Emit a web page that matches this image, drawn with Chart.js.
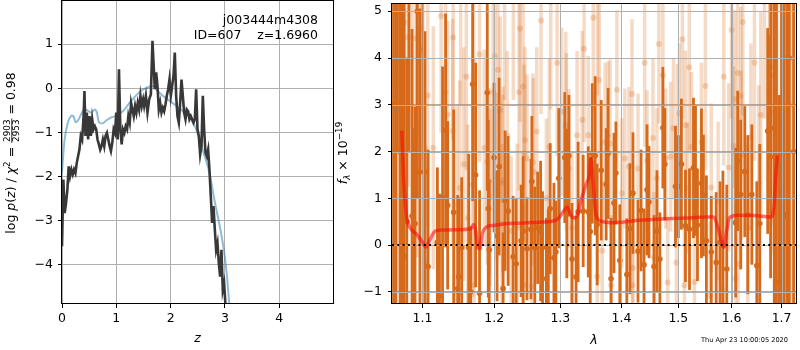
<!DOCTYPE html>
<html>
<head>
<meta charset="utf-8">
<script src="https://cdn.jsdelivr.net/npm/chart.js@4.4.1/dist/chart.umd.min.js"></script>
<style>
  html, body { margin: 0; padding: 0; background: #fff; }
  #wrap { position: relative; width: 800px; height: 350px; }
  #pz { position: absolute; left: 0; top: 0; }
  #spec { position: absolute; left: 335px; top: 0; }
</style>
</head>
<body>
<div id="wrap">
  <canvas id="pz" width="335" height="350"></canvas>
  <canvas id="spec" width="465" height="350"></canvas>
</div>
<script>
// ---- left panel: log p(z) ----
const zTicks = [0, 1, 2, 3, 4];
const pzTicks = [-4, -3, -2, -1, 0, 1];

const zGrid = [0,0.025,0.049,0.074,0.099,0.123,0.148,0.173,0.198,0.222,0.247,0.272,0.296,0.321,0.346,0.37,0.395,0.414,0.432,0.457,0.481,0.506,0.531,0.556,0.58,0.605,0.63,0.654,0.679,0.704,0.728,0.753,0.778,0.802,0.827,0.852,0.877,0.901,0.926,0.951,0.975,1.0,1.025,1.049,1.074,1.099,1.123,1.148,1.173,1.198,1.222,1.247,1.272,1.296,1.321,1.346,1.37,1.395,1.42,1.444,1.469,1.494,
  1.513,1.544,1.574,1.605,1.636,1.666,1.685,1.709,1.734,1.758,1.783,1.807,1.832,1.857,1.881,1.906,1.93,1.955,1.979,2.004,2.028,2.053,2.077,2.102,2.126,2.151,2.176,2.2,2.225,2.249,2.274,2.298,2.323,2.347,2.372,2.396,2.421,2.446,2.47,2.495,2.519,2.544,2.568,2.593,2.617,2.642,2.666,2.691,2.715,2.74,2.764,2.789,2.814,2.838,2.863,2.887,2.912,2.936,2.961,2.985,3.01,3.035];
const pzVals = [-3.58,-2.07,-2.83,-2.6,-2.3,-1.77,-1.99,-1.84,-1.95,-1.84,-1.92,-1.69,-1.54,-1.39,-1.08,-1.16,-0.7,-0.06,-1.08,-0.55,-1.16,-0.63,-1.08,-0.7,-0.93,-0.86,-0.93,-1.16,-1.27,-1.39,-1.31,-1.16,-1.31,-1.08,-1.01,-1.16,-1.31,-1.42,-1.23,-0.93,-1.01,-0.55,-1.16,0.43,-0.93,-1.27,-0.93,-1.01,-0.86,-0.93,-0.63,-0.78,-0.33,-0.48,-0.63,-0.4,-0.55,-0.33,-0.48,-0.17,-0.4,-0.25,
  -0.40,-0.17,-0.55,-0.25,-0.14,1.08,0.58,-0.02,0.36,0.05,-0.48,-0.33,-0.55,-0.44,-0.52,-0.36,-0.17,-0.02,0.2,-0.17,0.05,0.28,0.81,-0.17,-0.63,-0.78,-0.33,0.2,-0.17,-0.55,-0.7,-0.48,-0.52,-0.7,-0.63,-0.7,-0.78,-0.7,-0.02,-0.93,-1.08,-1.5,-1.31,-0.17,-0.93,-1.46,-1.54,-1.39,-1.84,-2.45,-3.05,-2.67,-3.2,-3.66,-3.51,-3.96,-4.27,-3.66,-4.57,-4.42,-4.91,-5.5];

const zFit = [0,0.049,0.11,0.171,0.214,0.251,0.294,0.355,0.416,0.478,0.539,0.6,0.643,0.68,0.753,0.814,0.906,0.998,1.121,1.243,1.335,1.396,1.488,1.58,1.672,1.733,1.855,1.978,2.1,2.253,2.376,2.468,2.529,2.603,2.682,2.743,2.805,2.866,2.927,2.988,3.031,3.08];
const pzFit = [-1.91,-1.15,-0.77,-0.62,-0.64,-0.77,-0.73,-0.58,-0.47,-0.51,-0.55,-0.48,-0.55,-0.77,-0.79,-0.73,-0.66,-0.62,-0.52,-0.33,-0.2,-0.12,-0.03,0.02,0.05,-0.02,-0.17,-0.28,-0.39,-0.55,-0.7,-0.92,-1.15,-1.45,-1.76,-2.1,-2.52,-2.89,-3.27,-3.73,-4.18,-4.88];

// ---- right panel: spectrum ----
const lamTicks = [1.1, 1.2, 1.3, 1.4, 1.5, 1.6, 1.7];
const fluxTicks = [-1, 0, 1, 2, 3, 4, 5];

const lightLam  = [1.063,1.068,1.0757,1.0809,1.086,1.0913,1.0926,1.0978,1.0991,1.1004,1.1046,1.107,1.1144,1.125,1.1312,1.134,1.1409,1.1416,1.1465,1.1507,1.152,1.1563,1.16,1.1619,1.1689,1.1703,1.171,1.1787,1.1856,1.1898,1.1926,1.194,1.1982,1.201,1.204,1.2055,1.2085,1.2114,1.2122,1.2129,1.215,1.2189,1.2248,1.228,1.2337,1.2366,1.2381,1.2426,1.2433,1.2441,1.2455,1.2485,1.2559,1.2574,1.2582,1.2634,1.27,1.2782,1.2827,1.285,1.295,1.3021,1.3087,1.3095,1.3136,1.3185,1.3267,1.3349,1.338,1.3448,1.353,1.3595,1.36,1.3628,1.3677,1.3726,1.3775,1.3808,1.3825,1.3923,1.4005,1.4058,1.4127,1.418,1.4188,1.4197,1.4284,1.44,1.4441,1.4546,1.4564,1.4616,1.465,1.4721,1.4773,1.4808,1.486,1.4913,1.4965,1.4983,1.5019,1.5074,1.5111,1.513,1.5167,1.52,1.5241,1.5296,1.5426,1.55,1.5593,1.5611,1.5741,1.5833,1.585,1.5944,1.60,1.604,1.606,1.608,1.6119,1.6129,1.6179,1.6189,1.6219,1.6318,1.6378,1.645,1.6537,1.6577,1.665,1.6756,1.6766,1.6795,1.6835,1.69,1.70,1.71,1.72];
const lightFlux = [5.8,3.5,4.76,4.44,6.5,4.42,2.54,4.63,4.14,4.21,-0.37,3.2,2.08,4.9,3.26,2.79,2.44,4.44,0.87,1.22,5.5,1.73,3.6,0.58,1.29,3.95,-0.86,4.08,2.08,1.78,1.36,1.02,3.27,4.04,1.46,3.75,2.89,0.46,1.32,1.39,5.6,2.35,0.3,5.3,0.37,3.27,4.63,3.39,-0.86,1.96,2.24,1.85,-0.88,1.77,1.57,2.43,4.8,1.0,2.1,5.2,3.9,2.85,2.56,2.2,1.64,0.37,2.35,2.68,4.2,2.35,4.86,-0.67,5.4,3.53,-0.12,2.2,2.33,2.17,-0.86,3.32,1.11,1.85,1.68,3.23,-0.86,-0.49,1.64,3.9,1.81,2.29,-0.26,1.43,4.3,3.63,1.85,-0.8,1.89,2.5,-0.37,2.27,2.82,4.4,-0.86,2.56,1.22,3.8,2.1,-0.79,2.2,3.4,-1.09,1.23,0.94,-0.96,3.6,1.66,4.6,2.12,3.12,-0.72,3.68,-0.4,3.19,1.92,4.77,0.37,2.31,3.9,1.32,2.78,5.2,3.25,3.81,2.84,3.63,5.5,2.6,4.0,3.0];
const lightErr  = [4.0,4.5,3.5,3.2,4.0,3.0,2.8,3.0,2.6,2.4,2.5,2.8,2.6,2.5,2.3,2.0,2.4,2.2,2.1,2.3,2.5,2.5,2.0,2.0,2.4,2.2,1.9,2.3,2.1,2.2,2.0,1.9,2.2,2.0,1.8,2.1,2.0,1.7,1.9,2.0,2.5,1.8,1.6,2.2,1.8,2.1,2.0,2.2,1.7,1.9,2.0,1.8,1.6,1.9,2.0,1.8,2.0,1.7,1.9,2.3,2.0,1.8,2.0,1.9,1.7,1.6,1.8,1.9,2.0,1.7,2.0,1.6,2.2,1.8,1.5,1.7,1.6,1.8,1.5,1.7,1.6,1.5,1.7,1.6,1.4,1.5,1.6,1.8,1.5,1.7,1.4,1.5,1.7,1.6,1.5,1.4,1.6,1.5,1.4,1.6,1.5,1.7,1.5,1.6,1.4,1.8,1.6,1.5,1.7,1.8,1.6,1.8,1.7,1.6,1.9,1.8,1.9,1.7,1.9,1.6,1.8,1.7,1.9,1.8,2.0,1.8,2.0,2.1,2.1,2.2,2.5,2.6,2.8,3.0,3.2,4.0,4.0,5.0,5.0];

const darkLam  = [1.062,1.065,1.067,1.0705,1.073,1.0757,1.0792,1.082,1.0861,1.088,1.09,1.093,1.0965,1.1032,1.1074,1.120,1.1228,1.127,1.1312,1.134,1.1423,1.1479,1.1493,1.1535,1.1633,1.1661,1.1689,1.1731,1.1787,1.1898,1.1912,1.1926,1.1996,1.204,1.207,1.2129,1.2158,1.2203,1.2277,1.2322,1.2396,1.2426,1.2485,1.2545,1.2559,1.2604,1.2648,1.2693,1.2723,1.2782,1.2812,1.2841,1.29,1.293,1.2975,1.307,1.3103,1.3136,1.3185,1.3251,1.3284,1.3365,1.3448,1.348,1.3513,1.3562,1.3595,1.3661,1.3743,1.3775,1.3825,1.3874,1.3906,1.3972,1.4092,1.4145,1.4197,1.4284,1.4337,1.4389,1.4441,1.4476,1.4564,1.4616,1.4668,1.4721,1.4756,1.4948,1.5,1.5056,1.513,1.5204,1.5278,1.5315,1.5352,1.5426,1.5463,1.5519,1.5611,1.5704,1.5778,1.5833,1.5907,1.608,1.6119,1.6179,1.6258,1.6318,1.6398,1.6497,1.6557,1.6716,1.6775,1.678,1.685,1.6895,1.6954,1.700,1.7055,1.7117,1.716,1.725];
const darkFlux = [3.0,-1.5,6.0,2.0,4.0,-0.25,0.51,7.0,0.62,-2.5,0.46,5.0,1.56,1.57,-0.46,0.06,-1.1,1.02,2.45,0.85,0.70,-0.93,-0.68,-0.05,-0.05,-1.0,3.44,1.5,-1.03,3.26,0.78,-0.1,1.87,0.2,1.68,-0.93,0.95,0.73,-0.25,-0.4,0.09,0.3,-0.08,0.34,1.36,-0.05,0.37,0.3,-0.05,-0.72,-0.44,0.78,-0.27,-0.15,1.43,1.87,0.89,1.91,-0.3,-0.68,0.71,0.73,0.71,0.29,1.96,1.91,0.44,1.6,1.3,1.96,-0.72,0.9,1.54,-0.33,-0.63,0.35,1.11,-0.13,0.74,-0.42,1.18,0.92,-0.46,0.3,-0.3,2.51,1.73,1.25,1.25,1.73,0.41,0.34,1.65,1.6,0.43,1.32,1.06,0.09,-0.15,-0.37,0.06,-0.01,-0.51,0.48,1.8,1.08,1.57,0.65,1.08,-0.44,0.46,2.44,1.89,6.0,2.5,1.8,-0.79,3.0,0.65,0.6,4.0,2.0];
const darkErr  = [6.0,7.0,4.0,5.5,6.0,6.0,3.5,5.0,4.0,5.0,2.5,4.0,3.5,3.0,2.5,1.6,2.2,2.8,2.5,1.8,2.2,2.0,1.7,1.5,2.0,1.4,2.5,2.4,2.2,2.1,1.9,1.5,1.6,1.4,1.9,1.2,1.5,1.6,1.3,1.4,1.2,1.6,1.1,1.5,1.4,1.3,1.2,1.5,1.2,1.3,1.2,1.4,1.6,1.1,1.5,1.4,1.6,1.3,1.2,1.3,1.5,1.2,1.4,1.6,1.5,1.7,1.3,1.5,1.2,1.4,1.3,1.5,1.1,1.2,1.2,1.4,1.3,1.1,1.3,1.2,1.4,1.2,1.1,1.3,1.0,1.3,1.2,1.3,1.1,1.4,1.2,1.3,1.5,1.4,1.2,1.6,1.3,1.4,1.2,1.5,1.3,1.6,1.8,1.6,1.5,1.6,1.4,1.7,1.5,1.8,1.7,2.2,2.6,4.0,4.0,3.5,4.0,5.0,6.0,7.0,6.0,6.0];

const modelLam  = [1.0727,1.0748,1.077,1.0792,1.0835,1.0922,1.0987,1.1046,1.1102,1.1172,1.1242,1.1475,1.1661,1.1703,1.1731,1.1763,1.1791,1.1824,1.1894,1.1986,1.2184,1.243,1.2678,1.2875,1.2975,1.3054,1.3108,1.3164,1.3218,1.3272,1.3328,1.341,1.3464,1.3492,1.353,1.3574,1.3656,1.3846,1.401,1.4302,1.4593,1.4883,1.5185,1.5494,1.5648,1.574,1.5802,1.5852,1.5894,1.5957,1.6119,1.6451,1.6781,1.6849,1.6881,1.6915];
const modelFlux = [2.45,1.5,0.94,0.58,0.37,0.23,0.09,-0.04,0.13,0.3,0.32,0.33,0.35,0.44,0.3,-0.05,-0.08,0.23,0.39,0.42,0.46,0.47,0.49,0.51,0.58,0.73,0.81,0.65,0.58,0.65,0.94,1.29,1.5,1.85,1.29,0.65,0.51,0.48,0.49,0.53,0.55,0.57,0.58,0.6,0.6,0.37,0.09,-0.05,0.23,0.58,0.64,0.63,0.6,0.87,1.5,1.92];

const FONT = '"DejaVu Sans", sans-serif';
const ORANGE = 'rgb(214,106,26)';
const ORANGE_LIGHT = 'rgba(214,106,26,0.25)';
const GRID = '#b0b0b0';

const minus = v => (v < 0 ? '\u2212' : '') + Math.abs(v);
const xy = (xs, ys) => xs.map((x, i) => ({ x: x, y: ys[i] }));

function axisOpts(extra) {
  return Object.assign({
    grid: { color: GRID, lineWidth: 1, tickColor: '#000', tickLength: 4 },
    border: { display: false },
  }, extra);
}

// frame around the plot area
const framePlugin = {
  id: 'frame',
  afterDraw(chart) {
    const a = chart.chartArea, ctx = chart.ctx;
    ctx.save();
    ctx.strokeStyle = '#000';
    ctx.lineWidth = 1;
    ctx.strokeRect(Math.round(a.left) - 0.5, Math.round(a.top) - 0.5,
      Math.round(a.right - a.left) + 1, Math.round(a.bottom - a.top));
    ctx.restore();
  }
};

// text drawn as a run of pieces (for the math-ish axis labels)
function drawRuns(ctx, runs, cx, cy, rot) {
  let w = 0;
  runs.forEach(r => {
    ctx.font = r.font;
    r.w = r.frac ? Math.max(ctx.measureText(r.num).width, ctx.measureText(r.den).width) + 2
                 : ctx.measureText(r.t).width;
    w += r.w;
  });
  ctx.save();
  ctx.translate(cx, cy);
  ctx.rotate(rot);
  ctx.fillStyle = '#000';
  ctx.textBaseline = 'alphabetic';
  let x = -w / 2;
  runs.forEach(r => {
    ctx.font = r.font;
    if (r.frac) {
      ctx.textAlign = 'center';
      ctx.fillText(r.num, x + r.w / 2, -4.6);
      ctx.fillText(r.den, x + r.w / 2, 4.4);
      ctx.fillRect(x, -3.6, r.w, 0.8);
    } else {
      ctx.textAlign = 'left';
      ctx.fillText(r.t, x, r.dy || 0);
    }
    x += r.w;
  });
  ctx.restore();
}

const N = '12.5px ' + FONT, I = 'italic 12.5px ' + FONT, S = '8.8px ' + FONT, SI = 'italic 8.8px ' + FONT;

const pzLabels = {
  id: 'pzLabels',
  afterDraw(chart) {
    const ctx = chart.ctx, a = chart.chartArea;
    drawRuns(ctx, [
      { t: 'log ', font: N }, { t: 'p', font: I }, { t: '(', font: N }, { t: 'z', font: I },
      { t: ') / ', font: N }, { t: '\u03c7', font: I }, { t: '2', font: S, dy: -5 },
      { t: ' = ', font: N }, { frac: true, num: '2903', den: '2953', font: S },
      { t: ' = 0.98', font: N }
    ], 15, 153, -Math.PI / 2);
    ctx.save();
    ctx.fillStyle = '#000';
    ctx.font = I;
    ctx.textAlign = 'center';
    ctx.fillText('z', (a.left + a.right) / 2, 342);
    ctx.font = N;
    ctx.textAlign = 'right';
    ctx.fillText('j003444m4308', 318, 24);
    ctx.fillText('ID=607    z=1.6960', 318, 39);
    ctx.restore();
  }
};

new Chart(document.getElementById('pz'), {
  type: 'scatter',
  data: {
    datasets: [
      { data: xy(zGrid, pzVals), showLine: true, borderColor: '#383838', borderWidth: 2.6,
        pointRadius: 0, tension: 0, order: 0 },
      { data: xy(zFit, pzFit), showLine: true, borderColor: 'rgba(31,119,180,0.5)', borderWidth: 2,
        pointRadius: 0, tension: 0.3, order: 1 }
    ]
  },
  options: {
    responsive: false, animation: false, events: [],
    layout: { padding: { left: 0, top: 1, right: 2, bottom: 0 } },
    plugins: { legend: { display: false }, tooltip: { enabled: false } },
    scales: {
      x: axisOpts({
        type: 'linear', min: 0, max: 4.99,
        afterBuildTicks: s => { s.ticks = zTicks.map(v => ({ value: v })); },
        afterFit: s => { s.height = 46; s.paddingLeft = 0; s.paddingRight = 0; },
        ticks: { font: { family: FONT, size: 12.5 }, color: '#000', padding: 3, maxRotation: 0, autoSkip: false, callback: minus }
      }),
      y: axisOpts({
        type: 'linear', min: -4.89, max: 1.98,
        afterBuildTicks: s => { s.ticks = pzTicks.map(v => ({ value: v })); },
        afterFit: s => { s.width = 62; s.paddingTop = 0; s.paddingBottom = 0; },
        ticks: { font: { family: FONT, size: 12.5 }, color: '#000', padding: 5, autoSkip: false, callback: minus }
      })
    }
  },
  plugins: [framePlugin, pzLabels]
});

// error bars, drawn just before their scatter dataset; grid redrawn on top of the bars
const errPlugin = {
  id: 'errbars',
  beforeDatasetDraw(chart, args) {
    const ds = chart.data.datasets[args.index];
    const ctx = chart.ctx, a = chart.chartArea;
    const xs = chart.scales.x, ys = chart.scales.y;
    ctx.save();
    ctx.beginPath();
    ctx.rect(a.left, a.top, a.right - a.left, a.bottom - a.top);
    ctx.clip();
    if (ds.errLam) {
      ctx.strokeStyle = ds.errColor;
      ctx.lineWidth = ds.errWidth;
      ds.errLam.forEach((l, i) => {
        const px = xs.getPixelForValue(l);
        ctx.beginPath();
        ctx.moveTo(px, ys.getPixelForValue(ds.errFlux[i] - ds.errSize[i]));
        ctx.lineTo(px, ys.getPixelForValue(ds.errFlux[i] + ds.errSize[i]));
        ctx.stroke();
      });
    }
    if (ds.gridFirst) {
      ctx.strokeStyle = GRID;
      ctx.lineWidth = 1;
      lamTicks.forEach(v => {
        const px = Math.round(xs.getPixelForValue(v)) + 0.5;
        ctx.beginPath(); ctx.moveTo(px, a.top); ctx.lineTo(px, a.bottom); ctx.stroke();
      });
      fluxTicks.forEach(v => {
        const py = Math.round(ys.getPixelForValue(v)) + 0.5;
        ctx.beginPath(); ctx.moveTo(a.left, py); ctx.lineTo(a.right, py); ctx.stroke();
      });
    }
    ctx.restore();
  }
};

const specLabels = {
  id: 'specLabels',
  afterDraw(chart) {
    const ctx = chart.ctx, a = chart.chartArea;
    drawRuns(ctx, [
      { t: 'f', font: I }, { t: '\u03bb', font: SI, dy: 3 }, { t: ' \u00d7 10', font: N },
      { t: '\u221219', font: S, dy: -5.5 }
    ], 12, 153, -Math.PI / 2);
    ctx.save();
    ctx.fillStyle = '#000';
    ctx.font = I;
    ctx.textAlign = 'center';
    ctx.fillText('\u03bb', (a.left + a.right) / 2, 344);
    ctx.font = '6.6px ' + FONT;
    ctx.textAlign = 'right';
    ctx.fillText('Thu Apr 23 10:00:05 2020', 788 - 335, 341.5);
    ctx.restore();
  }
};

new Chart(document.getElementById('spec'), {
  type: 'scatter',
  data: {
    datasets: [
      { data: [{ x: 1.06, y: 0 }, { x: 1.73, y: 0 }], showLine: true, borderColor: '#000', borderWidth: 2,
        borderDash: [2, 3.3], pointRadius: 0, order: 0 },
      { data: xy(modelLam, modelFlux), showLine: true, borderColor: 'rgba(255,0,0,0.55)', borderWidth: 3.5,
        pointRadius: 0, cubicInterpolationMode: 'monotone', order: 1, gridFirst: true },
      { data: xy(darkLam, darkFlux), backgroundColor: ORANGE, borderWidth: 0, pointRadius: 2.8, order: 2,
        errLam: darkLam, errFlux: darkFlux, errSize: darkErr, errColor: ORANGE, errWidth: 2.8 },
      { data: xy(lightLam, lightFlux), backgroundColor: ORANGE_LIGHT, borderWidth: 0, pointRadius: 3, order: 3,
        errLam: lightLam, errFlux: lightFlux, errSize: lightErr, errColor: ORANGE_LIGHT, errWidth: 3.5 }
    ]
  },
  options: {
    responsive: false, animation: false, events: [],
    layout: { padding: { left: 0, top: 1, right: 1, bottom: 0 } },
    plugins: { legend: { display: false }, tooltip: { enabled: false } },
    scales: {
      x: axisOpts({
        type: 'logarithmic', min: 1.06, max: 1.73,
        afterBuildTicks: s => { s.ticks = lamTicks.map(v => ({ value: v })); },
        afterFit: s => { s.height = 46; s.paddingLeft = 0; s.paddingRight = 0; },
        ticks: { font: { family: FONT, size: 12.5 }, color: '#000', padding: 3, maxRotation: 0, autoSkip: false,
          callback: v => Number(v).toFixed(1) }
      }),
      y: axisOpts({
        type: 'linear', min: -1.26, max: 5.155,
        afterBuildTicks: s => { s.ticks = fluxTicks.map(v => ({ value: v })); },
        afterFit: s => { s.width = 57; s.paddingTop = 0; s.paddingBottom = 0; },
        ticks: { font: { family: FONT, size: 12.5 }, color: '#000', padding: 6, autoSkip: false, callback: minus }
      })
    }
  },
  plugins: [errPlugin, framePlugin, specLabels]
});
</script>
</body>
</html>
